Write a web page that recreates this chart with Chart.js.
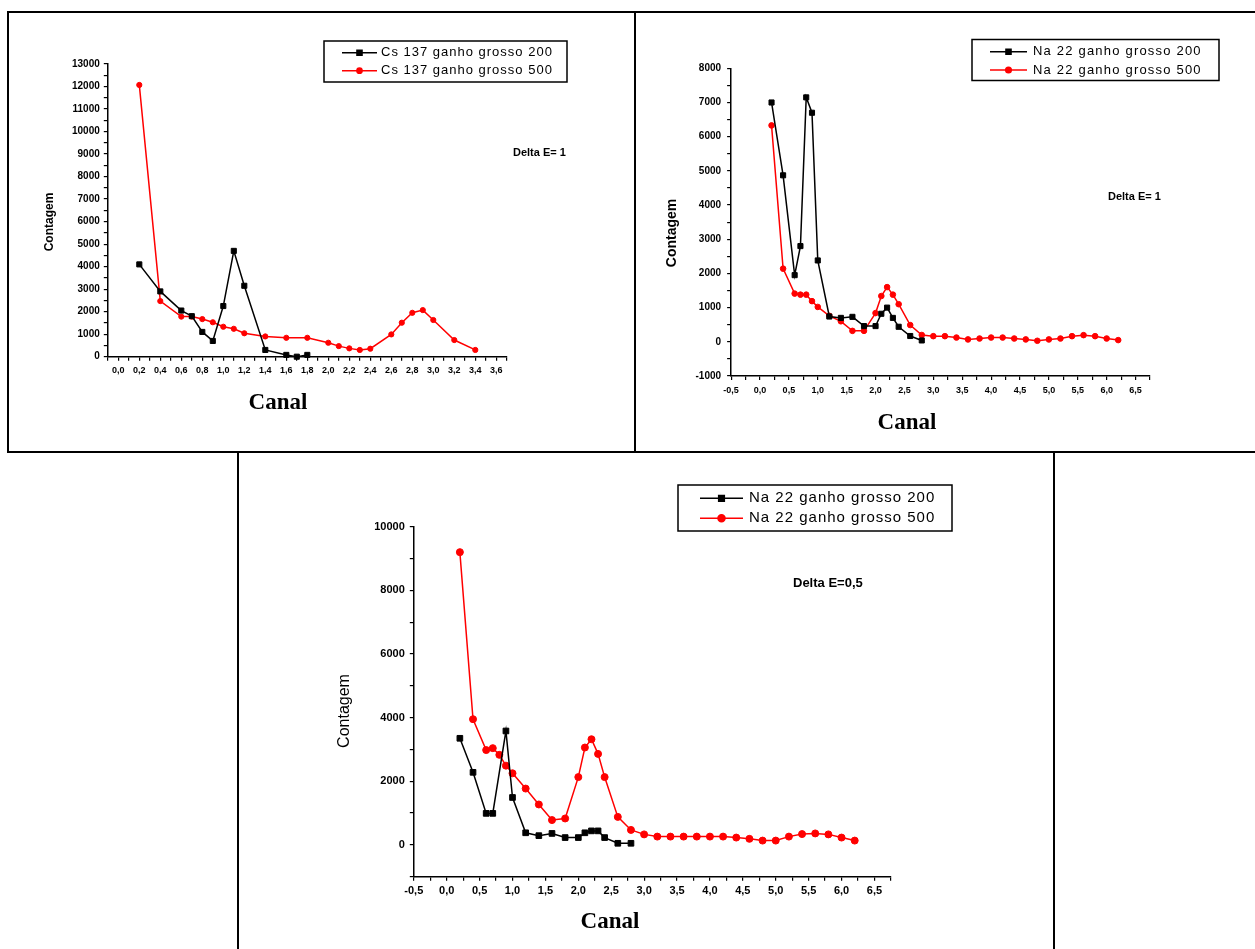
<!DOCTYPE html>
<html>
<head>
<meta charset="utf-8">
<script src="https://cdn.jsdelivr.net/npm/chart.js@4.4.1/dist/chart.umd.min.js"></script>
<style>
  html, body { margin: 0; padding: 0; background: #fff; }
  #page { position: relative; width: 1255px; height: 949px; overflow: hidden; }
  canvas { position: absolute; }
  .rule { position: absolute; background: #000; }
</style>
</head>
<body>
<div id="page">
  <div class="rule" style="left:7px;top:11px;width:1248px;height:2px"></div>
  <div class="rule" style="left:7px;top:451px;width:1248px;height:2px"></div>
  <div class="rule" style="left:7px;top:11px;width:2px;height:442px"></div>
  <div class="rule" style="left:634px;top:11px;width:2px;height:442px"></div>
  <div class="rule" style="left:237px;top:451px;width:2px;height:498px"></div>
  <div class="rule" style="left:1053px;top:451px;width:2px;height:498px"></div>
  <canvas id="cs" style="left:10px;top:14px" width="623" height="436"></canvas>
  <canvas id="na1" style="left:637px;top:14px" width="618" height="436"></canvas>
  <canvas id="na05" style="left:240px;top:454px" width="812" height="495"></canvas>
</div>
<script>
// Cs 137, Delta E = 1
var csCanal200 = [0.2, 0.4, 0.6, 0.7, 0.8, 0.9, 1.0, 1.1, 1.2, 1.4, 1.6, 1.7, 1.8];
var csCont200  = [4100, 2900, 2050, 1800, 1100, 700, 2250, 4700, 3150, 300, 80, 0, 80];
var csCanal500 = [0.2, 0.4, 0.6, 0.7, 0.8, 0.9, 1.0, 1.1, 1.2, 1.4, 1.6, 1.8, 2.0, 2.1, 2.2, 2.3, 2.4, 2.6, 2.7, 2.8, 2.9, 3.0, 3.2, 3.4];
var csCont500  = [12070, 2470, 1780, 1780, 1670, 1530, 1330, 1240, 1040, 900, 840, 840, 620, 470, 370, 300, 355, 990, 1510, 1950, 2070, 1630, 740, 300];

// Na 22, Delta E = 1
var na1Canal200 = [0.2, 0.4, 0.6, 0.7, 0.8, 0.9, 1.0, 1.2, 1.4, 1.6, 1.8, 2.0, 2.1, 2.2, 2.3, 2.4, 2.6, 2.8];
var na1Cont200  = [7000, 4870, 1950, 2800, 7150, 6700, 2380, 740, 700, 730, 460, 460, 820, 1000, 700, 440, 170, 40];
var na1Canal500 = [0.2, 0.4, 0.6, 0.7, 0.8, 0.9, 1.0, 1.2, 1.4, 1.6, 1.8, 2.0, 2.1, 2.2, 2.3, 2.4, 2.6,
                   2.8, 3.0, 3.2, 3.4, 3.6, 3.8, 4.0, 4.2, 4.4, 4.6, 4.8, 5.0, 5.2, 5.4, 5.6, 5.8, 6.0, 6.2];
var na1Cont500  = [6330, 2140, 1410, 1380, 1380, 1190, 1020, 760, 600, 320, 320, 840, 1340, 1600, 1380, 1100, 490,
                   200, 165, 165, 125, 70, 97, 125, 125, 97, 70, 30, 70, 97, 165, 195, 165, 97, 50];

// Na 22, Delta E = 0,5
var na05Canal200 = [0.2, 0.4, 0.6, 0.7, 0.9, 1.0, 1.2, 1.4, 1.6, 1.8, 2.0, 2.1, 2.2, 2.3, 2.4, 2.6, 2.8];
var na05Cont200  = [3350, 2280, 990, 990, 3580, 1490, 380, 290, 360, 230, 230, 380, 440, 440, 230, 50, 50];
var na05Canal500 = [0.2, 0.4, 0.6, 0.7, 0.8, 0.9, 1.0, 1.2, 1.4, 1.6, 1.8, 2.0, 2.1, 2.2, 2.3, 2.4, 2.6, 2.8,
                    3.0, 3.2, 3.4, 3.6, 3.8, 4.0, 4.2, 4.4, 4.6, 4.8, 5.0, 5.2, 5.4, 5.6, 5.8, 6.0, 6.2];
var na05Cont500  = [9200, 3950, 2980, 3040, 2830, 2490, 2250, 1770, 1270, 780, 830, 2130, 3060, 3320, 2860, 2130, 880, 470,
                    330, 260, 260, 260, 260, 260, 260, 230, 190, 135, 135, 260, 340, 360, 330, 230, 135];

function pts(xs, ys) {
    return xs.map(function (x, i) { return {x: x, y: ys[i]}; });
}

function isMajor(v, step) {
    return Math.abs(v / step - Math.round(v / step)) < 1e-6;
}

function canal(v) { return v.toFixed(1).replace('.', ','); }
function contagem(v) { return String(Math.round(v)); }

function axis(min, max, minor, major, fmt, font, pad, size) {
    return {
        type: 'linear',
        min: min,
        max: max,
        border: {color: '#000', width: 1.5},
        grid: {drawOnChartArea: false, color: '#000', lineWidth: 1.2, tickLength: 4},
        ticks: {
            stepSize: minor,
            autoSkip: false,
            maxRotation: 0,
            color: '#000',
            padding: pad,
            font: font,
            callback: function (v) { return isMajor(v, major) ? fmt(v) : ''; }
        },
        afterFit: function (s) {
            if (s.isHorizontal()) s.height = size; else s.width = size;
        }
    };
}

function series(label, xs, ys, color, style, r) {
    return {
        label: label,
        data: pts(xs, ys),
        borderColor: color,
        backgroundColor: color,
        borderWidth: 1.5,
        pointStyle: style,
        pointRadius: r,
        pointBorderWidth: 1,
        tension: 0,
        clip: false
    };
}

// texts and the boxed legend, in page pixels
var sheet = {
    id: 'sheet',
    afterDraw: function (chart, args, o) {
        var ctx = chart.ctx;
        ctx.save();
        ctx.fillStyle = '#000';
        ctx.textBaseline = 'middle';
        o.texts.forEach(function (t) {
            ctx.save();
            ctx.font = t.font;
            ctx.textAlign = t.align || 'left';
            ctx.translate(t.x - o.ox, t.y - o.oy);
            if (t.rotate) ctx.rotate(-Math.PI / 2);
            ctx.fillText(t.text, 0, 0);
            ctx.restore();
        });

        var lg = o.legend;
        ctx.strokeStyle = '#000';
        ctx.lineWidth = 1.5;
        ctx.strokeRect(lg.box[0] - o.ox, lg.box[1] - o.oy, lg.box[2], lg.box[3]);
        ctx.font = lg.font;
        ctx.letterSpacing = lg.spacing;
        ctx.textAlign = 'left';
        chart.data.datasets.forEach(function (ds, i) {
            var y = lg.rows[i] - o.oy;
            ctx.strokeStyle = ds.borderColor;
            ctx.fillStyle = ds.backgroundColor;
            ctx.lineWidth = 1.5;
            ctx.beginPath();
            ctx.moveTo(lg.line[0] - o.ox, y);
            ctx.lineTo(lg.line[1] - o.ox, y);
            ctx.stroke();
            Chart.helpers.drawPoint(ctx, {pointStyle: ds.pointStyle, radius: ds.pointRadius, borderWidth: 1, rotation: 0},
                (lg.line[0] + lg.line[1]) / 2 - o.ox, y);
            ctx.fillStyle = '#000';
            ctx.fillText(ds.label, lg.textX - o.ox, y);
        });
        ctx.restore();
    }
};

var sans = 'Liberation Sans, Arial, sans-serif';
var serif = 'Liberation Serif, Times New Roman, serif';

function baseOptions(x, y, padding, sheetOpts) {
    return {
        responsive: false,
        animation: false,
        layout: {padding: padding},
        scales: {x: x, y: y},
        plugins: {
            legend: {display: false},
            tooltip: {enabled: false},
            sheet: sheetOpts
        }
    };
}

// Cs 137
new Chart(document.getElementById('cs').getContext('2d'), {
    type: 'line',
    data: {
        datasets: [
            series('Cs 137 ganho grosso 200', csCanal200, csCont200, '#000', 'rect', 3.6),
            series('Cs 137 ganho grosso 500', csCanal500, csCont500, '#ff0000', 'circle', 2.6)
        ]
    },
    options: baseOptions(
        axis(-0.1, 3.7, 0.1, 0.2, canal, {family: sans, size: 9, weight: 'bold'}, 4, 28),
        axis(0, 13000, 500, 1000, contagem, {family: sans, size: 10, weight: 'bold'}, 4, 45),
        {left: 52.8, top: 50, right: 126.2, bottom: 65.3},
        {
            ox: 10, oy: 14,
            texts: [
                {text: 'Contagem', x: 50, y: 222, rotate: true, align: 'center', font: 'bold 12px ' + sans},
                {text: 'Canal', x: 278, y: 403, align: 'center', font: 'bold 23px ' + serif},
                {text: 'Delta E= 1', x: 513, y: 153, font: 'bold 11px ' + sans}
            ],
            legend: {box: [324, 41, 243, 41], line: [342, 377], rows: [52.7, 70.7], textX: 381,
                     font: '13px ' + sans, spacing: '1px'}
        }
    ),
    plugins: [sheet]
});

// Na 22, Delta E = 1
new Chart(document.getElementById('na1').getContext('2d'), {
    type: 'line',
    data: {
        datasets: [
            series('Na 22 ganho grosso 200', na1Canal200, na1Cont200, '#000', 'rect', 3.6),
            series('Na 22 ganho grosso 500', na1Canal500, na1Cont500, '#ff0000', 'circle', 2.8)
        ]
    },
    options: baseOptions(
        axis(-0.5, 6.75, 0.25, 0.5, canal, {family: sans, size: 9, weight: 'bold'}, 5, 28),
        axis(-1000, 8000, 500, 1000, contagem, {family: sans, size: 10, weight: 'bold'}, 6, 45),
        {left: 49.1, top: 54.3, right: 105, bottom: 46},
        {
            ox: 637, oy: 14,
            texts: [
                {text: 'Contagem', x: 672, y: 233, rotate: true, align: 'center', font: 'bold 14px ' + sans},
                {text: 'Canal', x: 907, y: 423, align: 'center', font: 'bold 23px ' + serif},
                {text: 'Delta E= 1', x: 1108, y: 197, font: 'bold 11px ' + sans}
            ],
            legend: {box: [972, 39.5, 247, 41], line: [990, 1027], rows: [51.7, 70], textX: 1033,
                     font: '13px ' + sans, spacing: '1.2px'}
        }
    ),
    plugins: [sheet]
});

// Na 22, Delta E = 0,5
new Chart(document.getElementById('na05').getContext('2d'), {
    type: 'line',
    data: {
        datasets: [
            series('Na 22 ganho grosso 200', na05Canal200, na05Cont200, '#000', 'rect', 4),
            series('Na 22 ganho grosso 500', na05Canal500, na05Cont500, '#ff0000', 'circle', 3.5)
        ]
    },
    options: baseOptions(
        axis(-0.5, 6.75, 0.25, 0.5, canal, {family: sans, size: 11, weight: 'bold'}, 4, 30),
        axis(-1000, 10000, 1000, 2000, contagem, {family: sans, size: 11, weight: 'bold'}, 5, 50),
        {left: 123.8, top: 72.7, right: 161.1, bottom: 42.3},
        {
            ox: 240, oy: 454,
            texts: [
                {text: 'Contagem', x: 345, y: 711, rotate: true, align: 'center', font: '16px ' + sans},
                {text: 'Canal', x: 610, y: 922, align: 'center', font: 'bold 23px ' + serif},
                {text: 'Delta E=0,5', x: 793, y: 583, font: 'bold 13px ' + sans}
            ],
            legend: {box: [678, 485, 274, 46], line: [700, 743], rows: [498.3, 518.3], textX: 749,
                     font: '15px ' + sans, spacing: '1px'}
        }
    ),
    plugins: [sheet]
});
</script>
</body>
</html>
